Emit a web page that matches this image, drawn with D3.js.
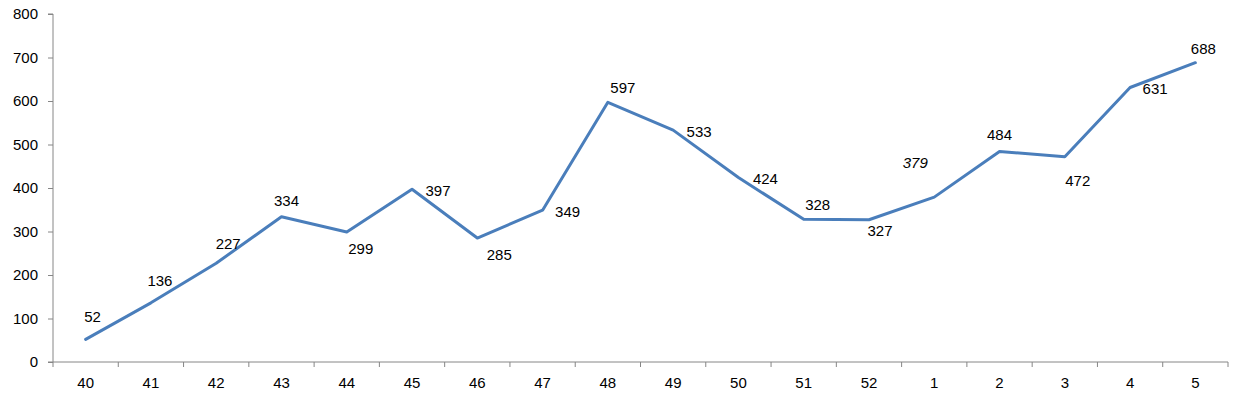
<!DOCTYPE html>
<html><head><meta charset="utf-8">
<script src="https://cdn.jsdelivr.net/npm/d3@7"></script>
<style>body{margin:0;background:#fff}svg{display:block}text{font-family:"Liberation Sans",Arial,sans-serif;font-size:15px;fill:#000}</style>
</head><body><svg id="c" width="1235" height="410"></svg>
<script>
const categories = ["40","41","42","43","44","45","46","47","48","49","50","51","52","1","2","3","4","5"];
const values = [52,136,227,334,299,397,285,349,597,533,424,328,327,379,484,472,631,688];
const yTicks = [0,100,200,300,400,500,600,700,800];
// label offsets (layout only)
const labelDx = [7,9,12,5,14,26,22,25,15,26,27,14,11,-19,0,13,25,8];
const labelDy = [-23,-22,-20,-16,17,1,16,1,-15,1,1,-15,11,-35,-17,24,1,-14];
const italicIdx = [13];

const svg = d3.select("#c");
const mLeft = 53, mRight = 1228, mTop = 14, mBottom = 362;
const x = d3.scaleBand().domain(categories).range([mLeft, mRight]).padding(0);
const y = d3.scaleLinear().domain([0, 800]).range([mBottom, mTop]);
const axisColor = "#868686";

// y axis
const ya = svg.append("g").attr("transform", `translate(${mLeft},0)`)
  .call(d3.axisLeft(y).tickValues(yTicks).tickSize(5).tickPadding(10));
ya.select(".domain").attr("stroke", axisColor).attr("d", `M-5,${mBottom}H0V${mTop}H-5`);
ya.selectAll(".tick line").attr("stroke", axisColor);
ya.selectAll("text").style("font-size", "15px").attr("fill", "#000");

// x axis
const xa = svg.append("g").attr("transform", `translate(0,${mBottom})`)
  .call(d3.axisBottom(x).tickSize(0).tickPadding(15));
xa.select(".domain").attr("stroke", axisColor).attr("d", `M${mLeft},0H${mRight}`);
xa.selectAll("text").style("font-size", "15px").attr("fill", "#000");
const bounds = categories.map(c => x(c)).concat([mRight]);
xa.selectAll(".bt").data(bounds).enter().append("line")
  .attr("x1", d => d).attr("x2", d => d).attr("y1", 0).attr("y2", 5)
  .attr("stroke", axisColor);

// line
const cx = c => x(c) + x.bandwidth() / 2;
const line = d3.line().x((d, i) => cx(categories[i])).y(d => y(d));
svg.append("path").datum(values).attr("d", line)
  .attr("fill", "none").attr("stroke", "#4a7ebb").attr("stroke-width", 3)
  .attr("stroke-linejoin", "round").attr("stroke-linecap", "round");

// labels
svg.selectAll(".lbl").data(values).enter().append("text")
  .attr("x", (d, i) => cx(categories[i]) + labelDx[i])
  .attr("y", (d, i) => y(d) + labelDy[i])
  .attr("text-anchor", "middle").attr("dominant-baseline", "central")
  .style("font-style", (d, i) => italicIdx.includes(i) ? "italic" : "normal")
  .text(d => d);
</script></body></html>
